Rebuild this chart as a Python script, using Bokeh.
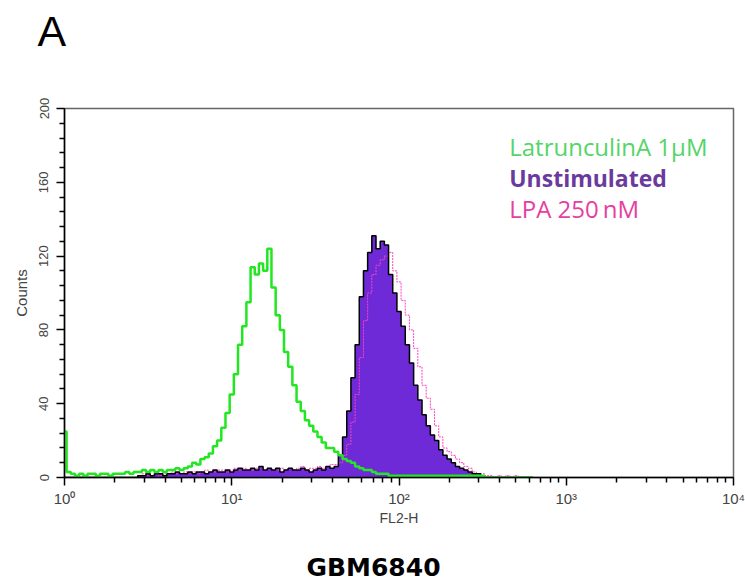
from bokeh.plotting import figure
from bokeh.models import FixedTicker, Label, Range1d, Title
from bokeh.embed import file_html
from bokeh.resources import INLINE

# FL2-H channel values (log-spaced histogram bins)
fl2_h = [1.000, 1.059, 1.122, 1.189, 1.259, 1.334, 1.413, 1.496, 1.585, 1.679,
         1.778, 1.884, 1.995, 2.113, 2.239, 2.371, 2.512, 2.661, 2.818, 2.985,
         3.162, 3.350, 3.548, 3.758, 3.981, 4.217, 4.467, 4.732, 5.012, 5.309,
         5.623, 5.957, 6.310, 6.683, 7.079, 7.499, 7.943, 8.414, 8.913, 9.441,
         10.00, 10.59, 11.22, 11.89, 12.59, 13.34, 14.13, 14.96, 15.85, 16.79,
         17.78, 18.84, 19.95, 21.13, 22.39, 23.71, 25.12, 26.61, 28.18, 29.85,
         31.62, 33.50, 35.48, 37.58, 39.81, 42.17, 44.67, 47.32, 50.12, 53.09,
         56.23, 59.57, 63.10, 66.83, 70.79, 74.99, 79.43, 84.14, 89.13, 94.41,
         100.0, 105.9, 112.2, 118.9, 125.9, 133.4, 141.3, 149.6, 158.5, 167.9,
         177.8, 188.4, 199.5, 211.3, 223.9, 237.1, 251.2, 266.1, 281.8, 298.5,
         316.2, 335.0, 354.8, 375.8, 398.1, 421.7, 446.7, 473.2, 501.2, 530.9,
         562.3, 595.7, 631.0]

latrunculin_counts = [25, 3,
    2, 1, 2, 1, 2, 2, 1, 2, 2, 1, 2, 2, 2, 3, 2, 3, 3,
    4, 3, 4, 3, 4, 3, 4, 4, 5, 4, 5, 6, 8, 7, 10, 11, 13, 17, 20, 27,
    35, 45, 56, 72, 82, 95, 114, 110, 116, 112, 124, 103, 88, 80, 68, 60, 50, 41, 36, 31,
    28, 25, 22, 19, 16, 16, 14, 12, 10, 9, 8, 6, 5, 4, 4, 3, 2, 2, 2, 1,
    1, 1, 1, 1, 1, 1, 1, 1, 1, 1, 1, 1, 1, 1, 1, 1, 1, 1, 1, 1, 1, 1,
    0, 0, 0, 0, 0, 0, 0, 0, 0, 0, 0, 0]

unstimulated_counts = [0, 0, 0, 0, 0, 0, 0, 0, 0, 0, 0, 0, 0, 0, 0, 0, 0, 0,
    1, 1, 2, 1, 2, 2, 1, 2, 2, 3, 2, 2, 3, 2, 3, 3, 2, 3, 4, 3, 3, 4, 3, 4, 5, 4,
    4, 5, 4, 6, 4, 5, 4, 5, 3, 4, 5, 4, 4, 5, 4, 3, 4, 5, 4, 6, 5, 6,
    12, 22, 36, 54, 72, 98, 112, 122, 131, 124, 128, 126, 110, 100, 90, 82, 72, 62,
    50, 42, 34, 28, 23, 20, 15, 12, 10, 8, 6, 5, 4, 3, 2, 2, 1, 0,
    0, 0, 0, 0, 0, 0, 0, 0, 0, 0, 0]

lpa_counts = [0, 0, 0, 0, 0, 0, 0, 0, 0, 0, 0, 0, 0, 0, 0, 0, 0, 0,
    1, 2, 1, 1, 2, 1, 2, 2, 3, 2, 2, 3, 2, 3, 2, 3, 4, 3, 3, 4, 4, 3, 4, 5,
    4, 5, 4, 4, 5, 5, 4, 5, 4, 4, 5, 4, 5, 4, 5, 6, 4, 5, 5, 6, 5, 6, 7, 7,
    8, 12, 18, 30, 45, 65, 85, 100, 110, 115, 118, 120, 122, 112, 106, 96,
    88, 80, 70, 60, 50, 43, 37, 28, 22, 16, 14, 12, 10, 8, 6, 5,
    3, 2, 2, 1, 1, 0, 1, 0, 1, 0, 1,
    0, 0, 0, 0]

x_major = [1, 10, 100, 1000, 10000]
x_major_labels = ["10⁰", "10¹", "10²", "10³", "10⁴"]
x_minor = [2, 3, 4, 5, 6, 7, 8, 9, 20, 30, 40, 50, 60, 70, 80, 90,
           200, 300, 400, 500, 600, 700, 800, 900, 2000, 3000, 4000, 5000,
           6000, 7000, 8000, 9000]
y_major = [0, 40, 80, 120, 160, 200]
y_minor = [8, 16, 24, 32, 48, 56, 64, 72, 88, 96, 104, 112, 128, 136, 144, 152,
           168, 176, 184, 192]

series_names = ["LatrunculinA 1\u00b5M", "Unstimulated", "LPA 250\u2009nM"]
panel_letter = "A"
cell_line = "GBM6840"

p = figure(width=745, height=586, x_axis_type="log", title=None,
           x_range=Range1d(1, 10000), y_range=Range1d(0, 200),
           output_backend="svg", toolbar_location=None,
           min_border_left=64, min_border_right=12,
           min_border_top=108, min_border_bottom=109)
p.background_fill_color = "white"
p.border_fill_color = "white"
p.xgrid.visible = False
p.ygrid.visible = False
p.outline_line_color = "#666666"
p.outline_line_width = 1.5

# Histograms
p.varea_step(x=fl2_h, y1=0, y2=unstimulated_counts, step_mode="center",
             fill_color="#6d2ad6", fill_alpha=1.0)
p.step(fl2_h, lpa_counts, mode="center", line_color="#ff40c0",
       line_width=1, line_dash="2 1")
p.step(fl2_h, unstimulated_counts, mode="center", line_color="black",
       line_width=1.5)
p.step(fl2_h, latrunculin_counts, mode="center", line_color="#22e622",
       line_width=2.5)

# Axes
xa = p.xaxis[0]
xa.ticker = FixedTicker(ticks=x_major, minor_ticks=x_minor)
xa.major_label_overrides = dict(zip(x_major, x_major_labels))
ya = p.yaxis[0]
ya.ticker = FixedTicker(ticks=y_major, minor_ticks=y_minor)
ya.major_label_orientation = "vertical"

for ax in (xa, ya):
    ax.axis_line_color = "black"
    ax.axis_line_width = 1.5
    ax.major_tick_line_color = "black"
    ax.minor_tick_line_color = "black"
    ax.major_tick_line_width = 1.5
    ax.minor_tick_line_width = 1.5
    ax.major_tick_in = 0
    ax.major_tick_out = 8
    ax.minor_tick_in = 0
    ax.minor_tick_out = 5
    ax.major_label_text_font = "Liberation Sans"
    ax.major_label_text_color = "#444444"
    ax.axis_label_text_font = "Liberation Sans"
    ax.axis_label_text_font_style = "normal"
    ax.axis_label_text_color = "#444444"

xa.major_label_text_font_size = "15px"
xa.axis_label = "FL2-H"
xa.axis_label_text_font_size = "14px"
xa.major_label_standoff = 4
xa.axis_label_standoff = 0
ya.major_label_text_font_size = "13px"
ya.axis_label = "Counts"
ya.axis_label_text_font_size = "15px"
ya.major_label_standoff = 8
ya.axis_label_standoff = 7

# Panel letter above the frame (spacer title keeps it near the top edge)
p.add_layout(Title(text=" ", text_font_size="1px", standoff=51), "above")
p.add_layout(Title(text=panel_letter, align="left", offset=-27, standoff=0,
                   text_font="Liberation Sans", text_font_size="43px",
                   text_font_style="normal", text_color="black"), "above")

# Cell line caption below the axis
p.add_layout(Title(text=" ", text_font_size="1px", standoff=19), "below")
p.add_layout(Title(text=cell_line, align="left", offset=242, standoff=0,
                   text_font="DejaVu Sans", text_font_size="25px",
                   text_font_style="bold", text_color="black"), "below")

# Legend-like texts
legend_colors = ["#55d468", "#6b3a9e", "#e6409f"]
legend_y = [179.4, 162.1, 145.8]
legend_sizes = ["24px", "23px", "24px"]
legend_styles = ["normal", "bold", "normal"]
for name, col, yy, sz, st in zip(series_names, legend_colors, legend_y,
                                 legend_sizes, legend_styles):
    p.add_layout(Label(x=456, y=yy, text=name, text_color=col,
                       text_font="Open Sans", text_font_size=sz,
                       text_font_style=st, text_align="left",
                       text_baseline="alphabetic"))

open("out.html", "w").write(file_html(p, INLINE))
